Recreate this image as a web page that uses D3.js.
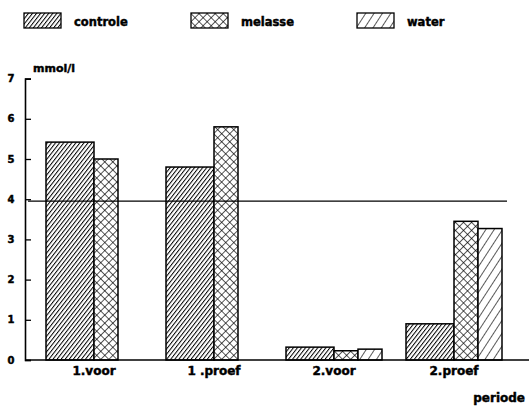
<!DOCTYPE html>
<html>
<head>
<meta charset="utf-8">
<script src="https://cdn.jsdelivr.net/npm/d3@7"></script>
<style>
  body { margin: 0; background: #fff; }
  text { font-family: "DejaVu Sans", sans-serif; font-weight: bold; fill: #000; stroke: #000; stroke-width: 0.45px; }
</style>
</head>
<body>
<svg id="chart"></svg>
<script>
// data
const periods = ["1.voor", "1 .proef", "2.voor", "2.proef"];
const series = ["controle", "melasse", "water"];
const controle = [5.42, 4.80, 0.32, 0.90];
const melasse = [5.00, 5.80, 0.23, 3.45];
const water = [null, null, 0.27, 3.27];
const yTicks = [0, 1, 2, 3, 4, 5, 6, 7];
const refValue = 3.95;

const width = 529;
const height = 407;
const marginLeft = 25;
const y0 = 360;
const yTop = 78.6;

// controle bar is twice as wide as the others
const subWidths = { controle: 2, melasse: 1, water: 1 };

const svg = d3.select("#chart")
    .attr("width", width)
    .attr("height", height);

const defs = svg.append("defs");

function hatch(id, size, angle, cross, sw) {
    const p = defs.append("pattern")
        .attr("id", id)
        .attr("patternUnits", "userSpaceOnUse")
        .attr("width", size)
        .attr("height", size)
        .attr("patternTransform", `rotate(${angle})`);
    p.append("rect").attr("width", size).attr("height", size).attr("fill", "#fff");
    p.append("line").attr("x1", 0).attr("y1", 0).attr("x2", 0).attr("y2", size)
        .attr("stroke", "#000").attr("stroke-width", sw);
    if (cross) {
        p.append("line").attr("x1", 0).attr("y1", 0).attr("x2", size).attr("y2", 0)
            .attr("stroke", "#000").attr("stroke-width", sw);
    }
}
hatch("p-controle", 3.2, 38, false, 2);
hatch("p-melasse", 5.7, 45, true, 1.3);
hatch("p-water", 7, 33, false, 1.3);

const fills = { controle: "url(#p-controle)", melasse: "url(#p-melasse)", water: "url(#p-water)" };

const x = d3.scaleBand()
    .domain(periods)
    .range([34, 514])
    .paddingInner(0.2)
    .paddingOuter(0.1);

const y = d3.scaleLinear()
    .domain([0, 7])
    .range([y0, yTop]);

// sub positions inside a group
const totalUnits = d3.sum(series, s => subWidths[s]);
const subStart = {};
let acc = 0;
series.forEach(s => { subStart[s] = acc; acc += subWidths[s]; });
const xSub = d3.scaleLinear().domain([0, totalUnits]).range([0, x.bandwidth()]);

const values = { controle, melasse, water };
const bars = [];
series.forEach(s => {
    values[s].forEach((v, i) => {
        if (v != null) bars.push({ s, period: periods[i], v });
    });
});

svg.append("g").selectAll("rect")
    .data(bars)
    .enter()
    .append("rect")
    .attr("x", d => x(d.period) + xSub(subStart[d.s]))
    .attr("width", d => xSub(subWidths[d.s]))
    .attr("y", d => y(d.v))
    .attr("height", d => y0 - y(d.v))
    .attr("fill", d => fills[d.s])
    .attr("stroke", "#000")
    .attr("stroke-width", 1.5);

// y axis, ticks pointing inward
const yAxis = svg.append("g")
    .attr("transform", `translate(${marginLeft},0)`)
    .call(d3.axisRight(y).tickValues(yTicks).tickSize(6).tickFormat(""));
yAxis.select(".domain").attr("stroke-width", 1.6);
yAxis.selectAll(".tick line").attr("stroke-width", 1.3);

svg.append("g").selectAll("text")
    .data(yTicks)
    .enter()
    .append("text")
    .attr("x", 11)
    .attr("y", d => y(d))
    .attr("dy", "0.35em")
    .attr("text-anchor", "middle")
    .style("font-size", "10px")
    .text(d => d);

// x axis
svg.append("line")
    .attr("x1", marginLeft).attr("x2", width)
    .attr("y1", y0).attr("y2", y0)
    .attr("stroke", "#000").attr("stroke-width", 1.6);

svg.append("g").selectAll("text")
    .data(periods)
    .enter()
    .append("text")
    .attr("x", d => x(d) + x.bandwidth() / 2)
    .attr("y", 375)
    .attr("text-anchor", "middle")
    .style("font-size", "12px")
    .text(d => d);

// reference line
svg.append("line")
    .attr("x1", marginLeft + 3).attr("x2", 507)
    .attr("y1", y(refValue)).attr("y2", y(refValue))
    .attr("stroke", "#000").attr("stroke-width", 1.3);

// axis titles
svg.append("text")
    .attr("x", 33).attr("y", 72)
    .style("font-size", "11px")
    .text("mmol/l");

svg.append("text")
    .attr("x", 525).attr("y", 402)
    .attr("text-anchor", "end")
    .style("font-size", "12px")
    .text("periode");

// legend
const legendX = { controle: 24, melasse: 191, water: 357 };
const legend = svg.append("g").selectAll("g")
    .data(series)
    .enter()
    .append("g")
    .attr("transform", d => `translate(${legendX[d]},13)`);

legend.append("rect")
    .attr("width", 37)
    .attr("height", 15)
    .attr("fill", d => fills[d])
    .attr("stroke", "#000")
    .attr("stroke-width", 1.3);

legend.append("text")
    .attr("x", 50)
    .attr("y", 13)
    .style("font-size", "11.5px")
    .text(d => d);
</script>
</body>
</html>
